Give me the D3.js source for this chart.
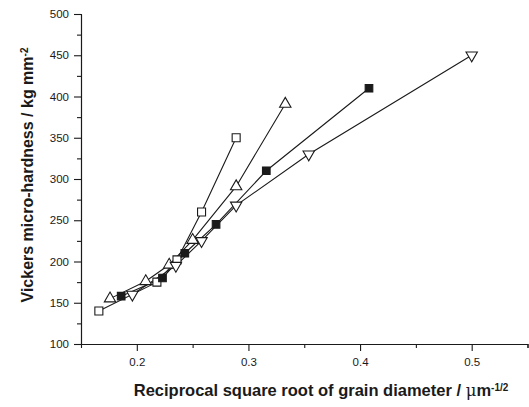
<!DOCTYPE html>
<html>
<head>
<meta charset="utf-8">
<script src="https://cdn.jsdelivr.net/npm/d3@7"></script>
<style>
  body { margin: 0; background: #fff; }
  text { font-family: "Liberation Sans", Arial, sans-serif; fill: #1a1a1a; }
  .axis path, .axis line { stroke: #1a1a1a; stroke-width: 1.1; }
  .axis text { font-size: 11.5px; }
  .title { font-size: 16.5px; font-weight: bold; }
</style>
</head>
<body>
<div class="chart"></div>
<script>
// Vickers hardness vs reciprocal sqrt grain size, four series
let openSquareX = [0.166, 0.218, 0.236, 0.258, 0.289];
let openSquareY = [140, 175, 202, 260, 350];

let filledSquareX = [0.186, 0.223, 0.243, 0.271, 0.316, 0.408];
let filledSquareY = [158, 180, 210, 245, 310, 410];

let upTriangleX = [0.176, 0.208, 0.229, 0.250, 0.289, 0.333];
let upTriangleY = [155, 176, 196, 226, 291, 391];

let downTriangleX = [0.196, 0.235, 0.258, 0.289, 0.354, 0.500];
let downTriangleY = [160, 195, 225, 268, 330, 450];

let xMajorTicks = [0.2, 0.3, 0.4, 0.5];
let xMinorTicks = [0.25, 0.35, 0.45, 0.55];
let yMajorTicks = [100, 150, 200, 250, 300, 350, 400, 450, 500];
let yMinorTicks = [125, 175, 225, 275, 325, 375, 425, 475];

let svgWidth = 529;
let svgHeight = 407;

let margin = { top: 14, right: 1.5, bottom: 63, left: 81 };
let width = svgWidth - margin.left - margin.right;
let height = svgHeight - margin.top - margin.bottom;

let svg = d3.select(".chart")
  .append("svg")
  .attr("width", svgWidth)
  .attr("height", svgHeight);

let chart = svg.append("g")
  .attr("transform", `translate(${margin.left}, ${margin.top})`);

let xScale = d3.scaleLinear().domain([0.15, 0.55]).range([0, width]);
let yScale = d3.scaleLinear().domain([100, 500]).range([height, 0]);

// minor ticks first, no labels
chart.append("g")
  .attr("class", "axis")
  .attr("transform", `translate(0, ${height})`)
  .call(d3.axisBottom(xScale).tickValues(xMinorTicks).tickSize(4).tickFormat(""));

chart.append("g")
  .attr("class", "axis")
  .call(d3.axisLeft(yScale).tickValues(yMinorTicks).tickSize(4).tickFormat(""));

// major ticks with labels
chart.append("g")
  .attr("class", "axis")
  .attr("transform", `translate(0, ${height})`)
  .call(d3.axisBottom(xScale).tickValues(xMajorTicks).tickSize(7).tickPadding(7)
    .tickSizeOuter(0).tickFormat(d3.format(".1f")));

chart.append("g")
  .attr("class", "axis")
  .call(d3.axisLeft(yScale).tickValues(yMajorTicks).tickSize(7).tickPadding(5)
    .tickSizeOuter(0).tickFormat(d3.format("d")));

let series = [
  { x: openSquareX, y: openSquareY, shape: d3.symbolSquare, size: 64, fill: "#fff" },
  { x: filledSquareX, y: filledSquareY, shape: d3.symbolSquare, size: 58, fill: "#1a1a1a" },
  { x: upTriangleX, y: upTriangleY, shape: d3.symbolTriangle, size: 56, fill: "#fff", rot: 0 },
  { x: downTriangleX, y: downTriangleY, shape: d3.symbolTriangle, size: 56, fill: "#fff", rot: 180 }
];

let line = d3.line()
  .x(d => xScale(d[0]))
  .y(d => yScale(d[1]));

// draw all the lines under the markers
series.forEach(function(s) {
  let pts = s.x.map((v, i) => [v, s.y[i]]);
  chart.append("path")
    .datum(pts)
    .attr("d", line)
    .attr("fill", "none")
    .attr("stroke", "#1a1a1a")
    .attr("stroke-width", 1.1);
});

series.forEach(function(s) {
  let pts = s.x.map((v, i) => [v, s.y[i]]);
  chart.selectAll(null)
    .data(pts)
    .enter()
    .append("path")
    .attr("d", d3.symbol().type(s.shape).size(s.size))
    .attr("transform", d => `translate(${xScale(d[0])}, ${yScale(d[1])}) rotate(${s.rot || 0})`)
    .attr("fill", s.fill)
    .attr("stroke", "#1a1a1a")
    .attr("stroke-width", 1.1);
});

// axis titles
let yTitle = svg.append("text")
  .attr("class", "title")
  .attr("font-size", "16px")
  .style("font-size", "16px")
  .attr("transform", `translate(33, 175) rotate(-90)`)
  .attr("text-anchor", "middle");
yTitle.append("tspan").text("Vickers micro-hardness / kg mm");
yTitle.append("tspan").attr("dy", "-0.55em").attr("font-size", "10px").text("-2");

let xTitle = svg.append("text")
  .attr("class", "title")
  .attr("x", 321)
  .attr("y", 396)
  .attr("text-anchor", "middle");
xTitle.append("tspan").text("Reciprocal square root of grain diameter / ");
xTitle.append("tspan").attr("font-family", "'DejaVu Serif', serif").attr("font-weight", "normal").text("μ");
xTitle.append("tspan").text("m");
xTitle.append("tspan").attr("dy", "-0.55em").attr("font-size", "10px").text("-1/2");
</script>
</body>
</html>
